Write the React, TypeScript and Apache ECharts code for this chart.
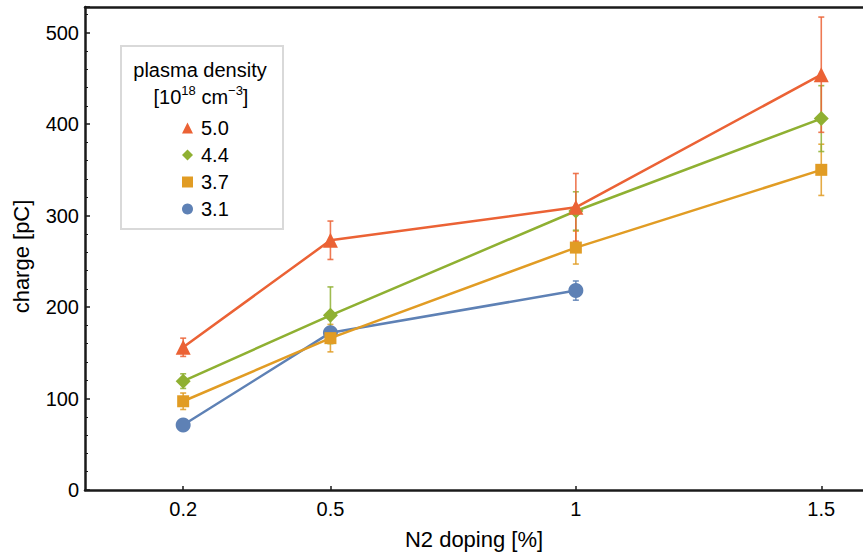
import { useEffect, useRef } from 'react';
import * as echarts from 'echarts';

// ---- data ----
const dopingLevels = [0.2, 0.5, 1, 1.5];
const densityNames = ['5.0', '4.4', '3.7', '3.1'];
const charge50 = [156, 273, 309, 454];
const err50 = [10, 21, 37, 63];
const charge44 = [119, 191, 305, 406];
const err44 = [8, 31, 21, 36];
const charge37 = [97, 166, 265, 350];
const err37 = [9, 15, 18, 28];
const charge31 = [71, 172, 218];
const err31 = [4, 5, 10.5];
const xTickValues = [0.2, 0.5, 1, 1.5];

const FONT = '"Liberation Sans", Arial, Helvetica, sans-serif';

const seriesDefs = [
  { name: densityNames[3], values: charge31, errs: err31, color: '#5E81B5', symbol: 'circle', size: 15 },
  { name: densityNames[2], values: charge37, errs: err37, color: '#E19C24', symbol: 'rect', size: 12 },
  { name: densityNames[1], values: charge44, errs: err44, color: '#8FB032', symbol: 'diamond', size: 15 },
  { name: densityNames[0], values: charge50, errs: err50, color: '#EB6235', symbol: 'triangle', size: 15 },
];

const legendIcons: Record<string, string> = { '5.0': 'triangle', '4.4': 'diamond', '3.7': 'rect', '3.1': 'circle' };

export default function App() {
  const ref = useRef<HTMLDivElement>(null);
  useEffect(() => {
    if (!ref.current) return;
    const chart = echarts.init(ref.current, null, { renderer: 'svg' });

    const series: any[] = [];
    seriesDefs.forEach((d, i) => {
      const color = d.color;
      series.push({
        name: d.name + ' err',
        type: 'custom',
        z: 1,
        silent: true,
        data: d.values.map((v, k) => [dopingLevels[k], v - d.errs[k], v + d.errs[k]]),
        encode: { x: 0, y: [1, 2] },
        renderItem: (_params: any, api: any) => {
          const x = api.value(0);
          const pLo = api.coord([x, api.value(1)]);
          const pHi = api.coord([x, api.value(2)]);
          const cap = 3;
          const st = { stroke: color, lineWidth: 1.6, opacity: 0.85 };
          return {
            type: 'group',
            children: [
              { type: 'line', shape: { x1: pLo[0], y1: pLo[1], x2: pHi[0], y2: pHi[1] }, style: st },
              { type: 'line', shape: { x1: pLo[0] - cap, y1: pLo[1], x2: pLo[0] + cap, y2: pLo[1] }, style: st },
              { type: 'line', shape: { x1: pHi[0] - cap, y1: pHi[1], x2: pHi[0] + cap, y2: pHi[1] }, style: st },
            ],
          };
        },
      });
      series.push({
        name: d.name,
        type: 'line',
        z: 2 + i,
        data: d.values.map((v, k) => [dopingLevels[k], v]),
        symbol: d.symbol,
        symbolSize: d.size,
        showAllSymbol: true,
        lineStyle: { color, width: 2.5 },
        itemStyle: { color },
        emphasis: { disabled: true },
      });
    });

    const axisLineStyle = { color: '#1a1a1a', width: 2.5 };

    chart.setOption({
      animation: false,
      textStyle: { fontFamily: FONT },
      grid: {
        left: 85,
        top: 7,
        bottom: 64,
        right: 0,
        show: false,
        containLabel: false,
      },
      legend: {
        data: densityNames.map((n) => ({ name: n, icon: legendIcons[n] })),
        orient: 'vertical',
        left: 177,
        top: 113,
        itemWidth: 11,
        itemHeight: 11,
        itemGap: 7,
        selectedMode: false,
        textStyle: { fontSize: 20, color: '#000', fontFamily: FONT, padding: [0, 0, 0, 3] },
      },
      xAxis: [
        {
          type: 'value',
          min: 0,
          max: 1.585,
          name: 'N2 doping [%]',
          nameLocation: 'middle',
          nameGap: 38,
          nameTextStyle: { fontSize: 22, color: '#000', fontFamily: FONT },
          splitLine: { show: false },
          axisLine: { show: true, onZero: false, lineStyle: axisLineStyle },
          axisTick: { show: true, inside: true, length: 4, customValues: xTickValues, lineStyle: { color: '#1a1a1a', width: 1.5 } },
          axisLabel: {
            customValues: xTickValues,
            fontSize: 20,
            color: '#000',
            margin: 9,
            formatter: (v: number) => String(v),
          },
        },
        {
          type: 'value',
          position: 'top',
          min: 0,
          max: 1.585,
          splitLine: { show: false },
          axisLine: { show: true, onZero: false, lineStyle: axisLineStyle },
          axisTick: { show: false },
          axisLabel: { show: false },
        },
      ],
      yAxis: {
        type: 'value',
        min: 0,
        max: 528,
        interval: 100,
        name: 'charge [pC]',
        nameLocation: 'middle',
        nameGap: 53,
        nameTextStyle: { fontSize: 22, color: '#000', fontFamily: FONT, padding: [0, 16, 0, 0] },
        splitLine: { show: false },
        axisLine: { show: true, onZero: false, lineStyle: axisLineStyle },
        axisTick: { show: true, inside: true, length: 5, lineStyle: { color: '#1a1a1a', width: 1.5 } },
        minorTick: { show: true, splitNumber: 5, length: 3, lineStyle: { color: '#1a1a1a', width: 1 } },
        axisLabel: {
          fontSize: 20,
          color: '#000',
          margin: 6,
          showMaxLabel: false,
          formatter: (v: number) => (v % 100 === 0 ? String(v) : ''),
        },
      },
      graphic: [
        {
          type: 'rect',
          z: 0,
          shape: { x: 121, y: 46, width: 162, height: 183 },
          style: { fill: '#fff', stroke: '#d9d9d9', lineWidth: 2 },
        },
        {
          type: 'text',
          z: 1,
          style: {
            x: 200, y: 70, text: 'plasma density', align: 'center', verticalAlign: 'middle',
            font: `20px ${FONT}`, fill: '#000',
          },
        },
        {
          type: 'text',
          z: 1,
          style: {
            x: 201, y: 97,
            text: '{a|[10}{s|18}{a| cm}{s|−3}{a|]}',
            align: 'center',
            verticalAlign: 'middle',
            fill: '#000',
            rich: {
              a: { fontSize: 20, fontFamily: FONT, lineHeight: 26, fill: '#000' },
              s: { fontSize: 13, fontFamily: FONT, lineHeight: 13, verticalAlign: 'top', fill: '#000' },
            },
          },
        },
      ],
      series,
    });
    return () => chart.dispose();
  }, []);
  return <div ref={ref} style={{ position: 'absolute', left: 0, top: 0, width: 863, height: 555, background: '#fff' }} />;
}
